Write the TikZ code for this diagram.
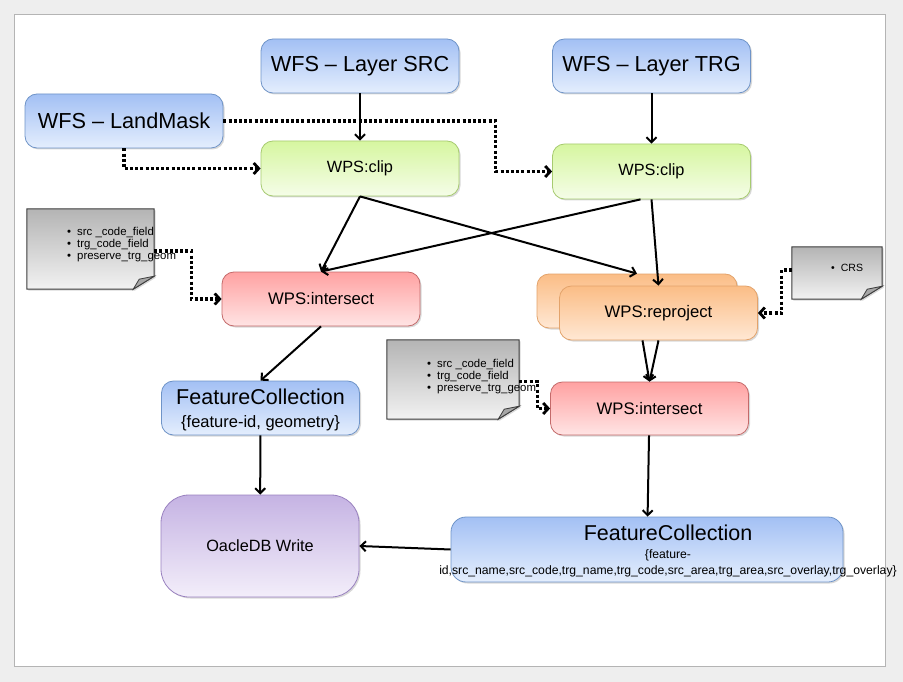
\documentclass[tikz,border=0pt]{standalone}
\usepackage{fontspec}
\setmainfont{Liberation Sans}
\usetikzlibrary{arrows.meta,shadows}

\definecolor{pagegrey}{HTML}{EEEEEE}
\definecolor{framegrey}{HTML}{B4B4B4}
\definecolor{blueTop}{HTML}{A3C0F4}
\definecolor{blueBot}{HTML}{E4EEFD}
\definecolor{blueLine}{HTML}{6F94C8}
\definecolor{greenTop}{HTML}{D6F6A0}
\definecolor{greenBot}{HTML}{F5FDE8}
\definecolor{greenLine}{HTML}{A7CB70}
\definecolor{redTop}{HTML}{FFA2A2}
\definecolor{redBot}{HTML}{FFE4E4}
\definecolor{redLine}{HTML}{C46A6A}
\definecolor{orangeTop}{HTML}{FBBD86}
\definecolor{orangeBot}{HTML}{FFE8D4}
\definecolor{orangeLine}{HTML}{E3A36B}
\definecolor{purpleTop}{HTML}{C5B3E3}
\definecolor{purpleBot}{HTML}{F3EEFA}
\definecolor{purpleLine}{HTML}{9A82C0}
\definecolor{noteTop}{HTML}{B4B4B4}
\definecolor{noteBot}{HTML}{F2F2F2}
\definecolor{noteLine}{HTML}{3C3C3C}

\tikzset{
	box/.style={draw, line width=0.8pt, rounded corners=12pt, minimum width=198pt, minimum height=54pt,
		align=center, inner ysep=1pt, drop shadow={shadow xshift=1.5pt,shadow yshift=-1.5pt,opacity=0.3}},
	wfs/.style={box, draw=blueLine, top color=blueTop, bottom color=blueBot, font=\fontsize{21.7}{24}\selectfont},
	wpsclip/.style={box, draw=greenLine, top color=greenTop, bottom color=greenBot, minimum height=55pt, font=\fontsize{16.3}{19}\selectfont},
	isect/.style={box, draw=redLine, top color=redTop, bottom color=redBot, font=\fontsize{16.7}{19}\selectfont},
	reproj/.style={box, draw=orangeLine, top color=orangeTop, bottom color=orangeBot, font=\fontsize{16.7}{19}\selectfont},
	fcoll/.style={box, draw=blueLine, top color=blueTop, bottom color=blueBot},
	oracle/.style={box, draw=purpleLine, top color=purpleTop, bottom color=purpleBot, rounded corners=28pt,
		minimum height=102pt, font=\fontsize{16.3}{19}\selectfont},
	notebox/.style={inner sep=0pt},
	notetxt/.style={anchor=west, align=left, inner sep=0pt, font=\fontsize{11.4}{12}\selectfont},
	flow/.style={line width=2pt, -{Straight Barb[length=5pt,width=10pt]}},
	dotflow/.style={line width=3.2pt, dash pattern=on 3pt off 2.2pt, -{Straight Barb[length=5pt,width=11pt,line width=2.8pt]}}
}

\newcommand\notepage[1]{%
	\path[draw=noteLine, line width=1pt, top color=noteTop, bottom color=noteBot,
		drop shadow={shadow xshift=1.5pt,shadow yshift=-1.5pt,opacity=0.3}]
		(#1.north west) -- (#1.north east) -- ([yshift=13pt]#1.south east)
		-- ([xshift=-21pt]#1.south east) -- (#1.south west) -- cycle;
	\fill[draw=noteLine, line width=0.8pt, fill=gray!70]
		([yshift=13pt]#1.south east) -- ([xshift=-21pt]#1.south east) -- ([xshift=-15pt,yshift=10pt]#1.south east) -- cycle;
}

\begin{document}
\begin{tikzpicture}[x=1pt,y=-1pt]
		
		\useasboundingbox (0,0) rectangle (903,682);
		\fill[pagegrey] (0,0) rectangle (903,682);
		\draw[framegrey, fill=white, line width=1pt] (14.5,14.5) rectangle (885.5,666.5);
		
		\node[wfs] (src) at (360,66) {WFS -- Layer SRC};
		\node[wfs] (trg) at (651.5,66) {WFS -- Layer TRG};
		\node[wfs] (mask) at (124,121) {WFS -- LandMask};
		\node[wpsclip] (clip1) at (360,168.5) {WPS:clip};
		\node[wpsclip] (clip2) at (651.5,171.5) {WPS:clip};
		\node[isect] (isect1) at (321,299) {WPS:intersect};
		\node[reproj, minimum width=200pt] (reprojback) at (637,301) {};
		\node[reproj] (reproj) at (658.5,313) {WPS:reproject};
		\node[isect, minimum height=53pt] (isect2) at (649.5,408.5) {WPS:intersect};
		\node[fcoll, font=\fontsize{16.5}{18}\selectfont, text depth=0pt] (fcl) at (260.5,408) {{\fontsize{21.5}{22}\selectfont FeatureCollection}\\[5pt]\{feature-id, geometry\}};
		\node[oracle] (db) at (260,546) {OacleDB Write};
		\node[fcoll, minimum width=392pt, minimum height=65pt, rounded corners=15pt] (fcr) at (647,549.5) {};
		\node[align=center, inner sep=0pt, font=\fontsize{12.2}{14}\selectfont] (fcrtxt) at (668,551) {{\fontsize{21.5}{22}\selectfont FeatureCollection}\\[4pt]\{feature-\\[2pt]id,src\_name,src\_code,trg\_name,trg\_code,src\_area,trg\_area,src\_overlay,trg\_overlay\}};
		
		\node[notebox, minimum width=127pt, minimum height=80pt] (note1) at (90.5,249) {};
		\notepage{note1}
		\node[notetxt] (note1txt) at (67,245) {\textbullet\hspace{6pt}src \_code\_field\\\textbullet\hspace{6pt}trg\_code\_field\\\textbullet\hspace{6pt}preserve\_trg\_geom};
		\node[notebox, minimum width=132pt, minimum height=79pt] (note2) at (453,379.5) {};
		\notepage{note2}
		\node[notetxt] (note2txt) at (427,377) {\textbullet\hspace{6pt}src \_code\_field\\\textbullet\hspace{6pt}trg\_code\_field\\\textbullet\hspace{6pt}preserve\_trg\_geom};
		\node[notebox, minimum width=90pt, minimum height=52pt] (crs) at (837,273) {};
		\notepage{crs}
		\node[notetxt, font=\fontsize{10.5}{12}\selectfont] (crstxt) at (831,268) {\textbullet\hspace{6pt}CRS};
		
		\draw[flow] (src) -- (clip1);
		\draw[flow] (trg) -- (clip2);
		\draw[flow] (clip1.south) -- (isect1.north);
		\draw[flow] ([xshift=-11pt]clip2.south) -- (isect1.north);
		\draw[flow] (clip1.south) -- (reprojback.north);
		\draw[flow] (clip2.south) -- (reproj.north);
		\draw[flow] ([xshift=-16pt]reproj.south) -- (isect2.north);
		\draw[flow] (reproj.south) -- (isect2.north);
		\draw[flow] (isect1.south) -- (fcl.north);
		\draw[flow] (fcl) -- (db);
		\draw[flow] (isect2) -- (fcr);
		\draw[flow] (fcr.west) -- (db.east);
		
		\draw[dotflow] (mask.east) -- ++(272,0) |- (clip2.west);
		\draw[dotflow] (mask.south) |- (clip1.west);
		\draw[dotflow] ([yshift=-2pt]note1.east) -- ++(37,0) |- (isect1.west);
		\draw[dotflow] ([yshift=-2pt]note2.east) -- ++(18,0) |- (isect2.west);
		\draw[dotflow] ([yshift=3pt]crs.west) -- ++(-10,0) |- (reproj.east);
		
\end{tikzpicture}
\end{document}
